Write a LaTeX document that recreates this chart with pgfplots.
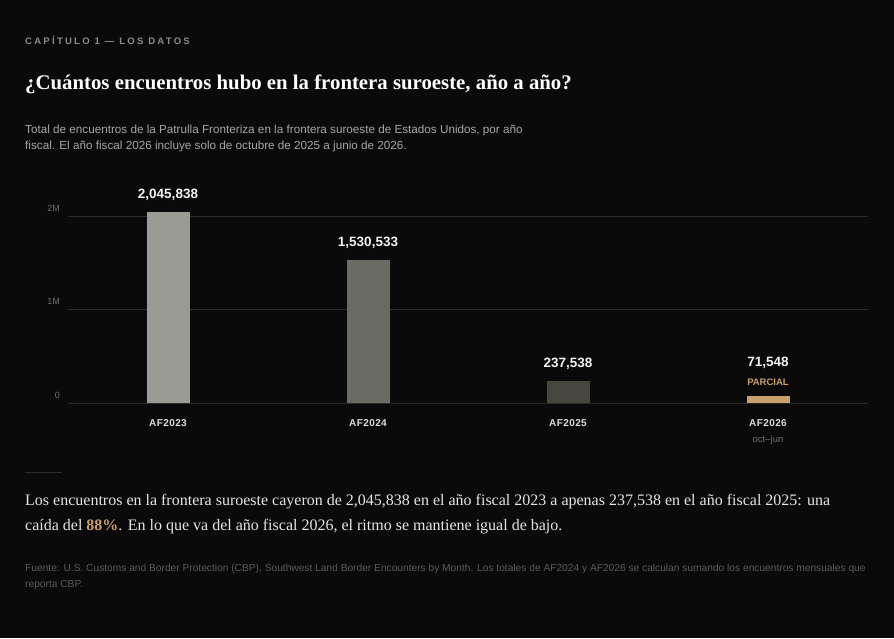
\documentclass[border=0pt]{standalone}
\usepackage{pgfplots}
\pgfplotsset{compat=1.18}
\usepackage{fontspec}
\setmainfont{Liberation Serif}
\setsansfont{Liberation Sans}
\newfontfamily\spaced[LetterSpace=24]{Liberation Sans}
\newfontfamily\tickfont[LetterSpace=4]{Liberation Sans}
\definecolor{bg}{HTML}{0A0A0A}
\definecolor{bar1}{HTML}{9B9B95}
\definecolor{bar2}{HTML}{6B6B65}
\definecolor{bar3}{HTML}{47473F}
\definecolor{accent}{HTML}{C9A06C}
\definecolor{gridc}{HTML}{2B2B2B}
\definecolor{kicker}{HTML}{8C8C8C}
\definecolor{subc}{HTML}{A6A6A6}
\definecolor{para}{HTML}{E6E6E6}
\definecolor{srcc}{HTML}{5A5A5A}
\definecolor{ticklab}{HTML}{6E6E6E}
\definecolor{vallab}{HTML}{F2F2F2}
\definecolor{catlab}{HTML}{DDDDDD}
\begin{document}
\begin{tikzpicture}
\useasboundingbox (0,0) rectangle (894pt,638pt);
\fill[bg] (0,0) rectangle (894pt,638pt);
% header
\node[anchor=west, inner sep=0pt, text=kicker, font=\spaced\bfseries\fontsize{9.5}{11}\selectfont] at (25pt,598pt) {CAPÍTULO 1 — LOS DATOS};
\node[anchor=west, inner sep=0pt, text=white, font=\rmfamily\bfseries\fontsize{20.8}{24}\selectfont] at (25pt,554pt) {¿Cuántos encuentros hubo en la frontera suroeste, año a año?};
\node[anchor=west, inner sep=0pt, text=subc, font=\sffamily\fontsize{11.7}{14}\selectfont] at (25pt,508pt) {Total de encuentros de la Patrulla Fronteriza en la frontera suroeste de Estados Unidos, por año};
\node[anchor=west, inner sep=0pt, text=subc, font=\sffamily\fontsize{11.7}{14}\selectfont] at (25pt,492pt) {fiscal. El año fiscal 2026 incluye solo de octubre de 2025 a junio de 2026.};
% chart
\begin{axis}[
  at={(68pt,235pt)}, anchor=south west,
  scale only axis, width=800pt, height=196.35pt,
  xmin=-0.5, xmax=3.5, ymin=0, ymax=2100000,
  clip=false,
  axis line style={draw=none},
  major tick length=0pt,
  ytick={0,1000000,2000000}, yticklabels={0,1M,2M},
  ymajorgrids, grid style={gridc, line width=0.8pt},
  yticklabel style={anchor=east, inner sep=0pt, xshift=-8pt, yshift=8pt, text=ticklab, font=\sffamily\fontsize{9}{10}\selectfont},
  xtick={0,1,2,3},
  xticklabels={AF2023,AF2024,AF2025,{AF2026\\[4pt]{\normalfont\sffamily\color{ticklab}\fontsize{9.5}{11}\selectfont oct–jun}}},
  xticklabel style={align=center, inner sep=0pt, yshift=-16pt, anchor=north, text=catlab, font=\tickfont\bfseries\fontsize{10}{12}\selectfont},
  scaled y ticks=false,
  every node near coord/.append style={anchor=south, yshift=7.5pt, align=center, text=vallab, font=\sffamily\bfseries\fontsize{13.5}{16}\selectfont},
]
\addplot[ybar, bar width=43pt, bar shift=0pt, fill=bar1, draw=none, nodes near coords={2,045,838}] coordinates {(0,2045838)};
\addplot[ybar, bar width=43pt, bar shift=0pt, fill=bar2, draw=none, nodes near coords={1,530,533}] coordinates {(1,1530533)};
\addplot[ybar, bar width=43pt, bar shift=0pt, fill=bar3, draw=none, nodes near coords={237,538}] coordinates {(2,237538)};
\addplot[ybar, bar width=43pt, bar shift=0pt, fill=accent, draw=none, nodes near coords={71,548\\[3pt]{\color{accent}\fontsize{9.5}{11}\selectfont PARCIAL}}] coordinates {(3,71548)};
\end{axis}
% footer
\draw[gridc, line width=0.8pt] (25pt,166pt) -- (62pt,166pt);
\node[anchor=west, inner sep=0pt, text=para, font=\rmfamily\fontsize{16}{18}\selectfont] at (25pt,136pt) {Los encuentros en la frontera suroeste cayeron de 2,045,838 en el año fiscal 2023 a apenas 237,538 en el año fiscal 2025: una};
\node[anchor=west, inner sep=0pt, text=para, font=\rmfamily\fontsize{16}{18}\selectfont] at (25pt,111pt) {caída del {\bfseries\color{accent}88\%}. En lo que va del año fiscal 2026, el ritmo se mantiene igual de bajo.};
\node[anchor=west, inner sep=0pt, text=srcc, font=\sffamily\fontsize{10.2}{12}\selectfont] at (25pt,69pt) {Fuente: U.S. Customs and Border Protection (CBP), Southwest Land Border Encounters by Month. Los totales de AF2024 y AF2026 se calculan sumando los encuentros mensuales que};
\node[anchor=west, inner sep=0pt, text=srcc, font=\sffamily\fontsize{10.2}{12}\selectfont] at (25pt,53pt) {reporta CBP.};
\end{tikzpicture}
\end{document}
